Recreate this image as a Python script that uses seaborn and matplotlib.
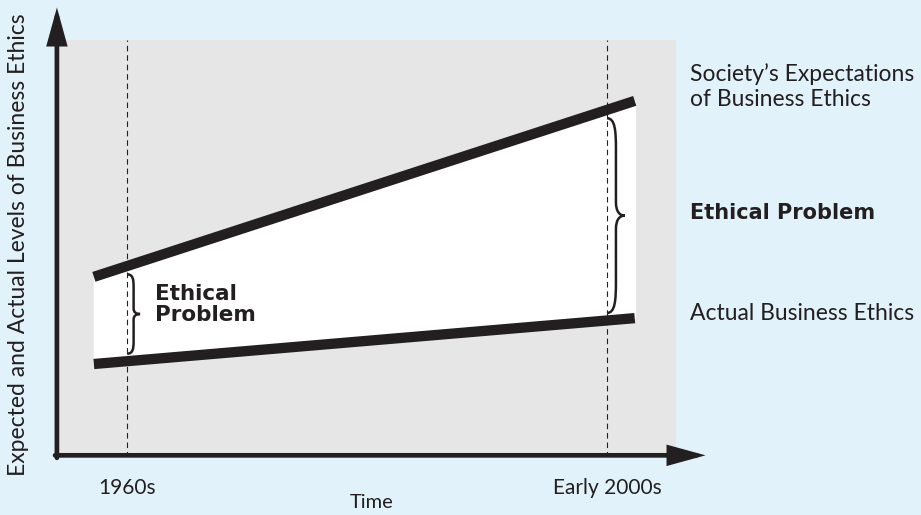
import numpy as np
import pandas as pd
import matplotlib
matplotlib.use("Agg")
import matplotlib.pyplot as plt
from matplotlib.path import Path
from matplotlib.patches import PathPatch
import seaborn as sns

# chart values (x = time position, y = level of business ethics)
time = [5.5, 93.3]
expectations = [43.2, 85.4]
actual = [22.3, 33.3]
era_pos = [10.9, 88.8]
era_labels = ["1960s", "Early 2000s"]
brace_widths = [2.1, 2.9]

INK = "#231f20"
BG = "#e2f2fb"
PANEL = "#e6e6e6"
BOLD = ["DejaVu Sans"]

sns.set_theme(style="white")
plt.rcParams["font.family"] = ["Lato", "DejaVu Sans"]

df = pd.DataFrame({"time": time, "expectations": expectations, "actual": actual})

fig = plt.figure(figsize=(9.21, 5.15), dpi=100, facecolor=BG)
ax = fig.add_axes([60 / 921, 58 / 515, 616 / 921, 417 / 515])
ax.set_facecolor(PANEL)
ax.set_xlim(0, 100)
ax.set_ylim(0, 100)
for s in ax.spines.values():
    s.set_visible(False)

# dashed era markers
for xp in era_pos:
    ax.axvline(xp, color=INK, lw=0.8, ls=(0, (5, 3.5)), zorder=3)

# gap between expectations and actual
ax.fill_between(df["time"], df["actual"], df["expectations"], color="white", zorder=2)

sns.lineplot(data=df, x="time", y="expectations", color=INK, lw=7.4,
             solid_capstyle="butt", ax=ax, zorder=4)
sns.lineplot(data=df, x="time", y="actual", color=INK, lw=7.4,
             solid_capstyle="butt", ax=ax, zorder=4)


def brace(ax, x, y_top, y_bot, w):
    h = y_top - y_bot
    mid = (y_top + y_bot) / 2
    a = 0.5 * w
    re = 0.16 * h
    rm = 0.07 * h
    verts = [
        (x, y_top),
        (x + a * 0.9, y_top), (x + a, y_top - re * 0.4), (x + a, y_top - re),
        (x + a, mid + rm),
        (x + a, mid + rm * 0.3), (x + a + (w - a) * 0.4, mid), (x + w, mid),
        (x + a + (w - a) * 0.4, mid), (x + a, mid - rm * 0.3), (x + a, mid - rm),
        (x + a, y_bot + re),
        (x + a, y_bot + re * 0.4), (x + a * 0.9, y_bot), (x, y_bot),
    ]
    codes = ([Path.MOVETO] + [Path.CURVE4] * 3 + [Path.LINETO] + [Path.CURVE4] * 6
             + [Path.LINETO] + [Path.CURVE4] * 3)
    ax.add_patch(PathPatch(Path(verts, codes), fc="none", ec=INK, lw=1.8, zorder=5))


for xp, w in zip(era_pos, brace_widths):
    top = np.interp(xp, time, expectations) - 2.0
    bot = np.interp(xp, time, actual) + 1.8
    brace(ax, xp, top, bot, w)

ax.text(15.4, 36.6, "Ethical\nProblem", fontsize=15.5, fontweight="bold", family=BOLD,
        color=INK, ha="left", va="center", linespacing=1.05, zorder=6)

# right-hand labels
ax.text(102.3, 88.8, "Society\u2019s Expectations\nof Business Ethics", fontsize=16.5,
        color=INK, ha="left", va="center", linespacing=1.2, clip_on=False)
ax.text(102.3, 58.5, "Ethical Problem", fontsize=15, fontweight="bold", family=BOLD,
        color=INK, ha="left", va="center", clip_on=False)
ax.text(102.3, 34.5, "Actual Business Ethics", fontsize=16.5, color=INK,
        ha="left", va="center", clip_on=False)

# axes with arrow heads
arrow = dict(arrowstyle="-|>,head_length=2.0,head_width=0.55", color=INK, lw=3.4,
             mutation_scale=10, shrinkA=0, shrinkB=0, joinstyle="miter")
ax.annotate("", xy=(-0.005, 1.078), xytext=(-0.005, -0.002), xycoords="axes fraction",
            arrowprops=arrow, annotation_clip=False)
ax.annotate("", xy=(1.048, 0.004), xytext=(-0.008, 0.004), xycoords="axes fraction",
            arrowprops=arrow, annotation_clip=False)

ax.set_xticks(era_pos, era_labels)
ax.set_yticks([])
ax.tick_params(axis="x", length=0, pad=15, labelsize=15, labelcolor=INK)
ax.set_xlabel("Time", fontsize=14.5, color=INK, va="center")
ax.xaxis.set_label_coords(0.506, -0.110)
ax.set_ylabel("Expected and Actual Levels of Business Ethics", fontsize=16.5, color=INK,
              va="center")
ax.yaxis.set_label_coords(-0.068, 0.508)

fig.savefig("out.png", dpi=100, facecolor=BG)
